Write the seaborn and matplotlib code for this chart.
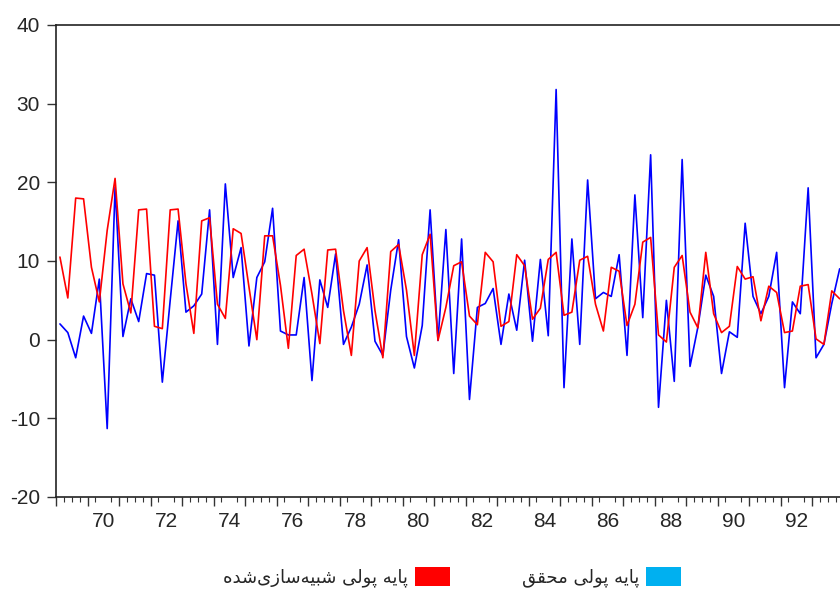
import numpy as np
import pandas as pd
import matplotlib
matplotlib.use("Agg")
import matplotlib.pyplot as plt
from matplotlib.patches import Patch
import seaborn as sns

# ---------------- data (quarterly, 1369Q1 .. 1393Q4) ----------------
years = list(range(69, 94))
quarters = [1, 2, 3, 4]

actual = [2.0, 0.9, -2.3, 3.0, 0.8, 7.7, -11.3, 19.4, 0.4, 5.2,
          2.3, 8.4, 8.2, -5.4, 5.0, 15.1, 3.5, 4.3, 5.8, 16.5,
          -0.6, 19.8, 7.9, 11.7, -0.8, 7.9, 9.9, 16.7, 1.1, 0.6,
          0.6, 7.9, -5.2, 7.6, 4.1, 10.9, -0.6, 1.6, 4.5, 9.5,
          -0.2, -2.0, 6.3, 12.7, 0.4, -3.6, 1.8, 16.5, -0.1, 14.0,
          -4.3, 12.8, -7.6, 4.1, 4.6, 6.5, -0.6, 5.8, 1.2, 10.1,
          -0.2, 10.2, 0.5, 31.8, -6.1, 12.8, -0.6, 20.3, 5.2, 6.0,
          5.5, 10.8, -2.0, 18.4, 2.8, 23.5, -8.6, 5.0, -5.3, 22.9,
          -3.4, 1.6, 8.2, 5.5, -4.3, 1.0, 0.3, 14.8, 5.5, 3.3,
          5.5, 11.1, -6.1, 4.8, 3.3, 19.3, -2.3, -0.6, 4.6, 9.0]

simulated = [10.5, 5.3, 18.0, 17.9, 9.2, 4.8, 13.9, 20.5, 7.1, 3.4,
             16.5, 16.6, 1.7, 1.4, 16.5, 16.6, 7.1, 0.8, 15.1, 15.5,
             4.5, 2.7, 14.1, 13.5, 6.7, 0.0, 13.2, 13.2, 6.9, -1.1,
             10.7, 11.5, 5.8, -0.5, 11.4, 11.5, 3.7, -2.0, 10.0, 11.7,
             3.7, -2.3, 11.2, 12.1, 6.3, -2.0, 10.8, 13.4, -0.1, 4.1,
             9.4, 9.9, 3.0, 1.9, 11.1, 9.9, 1.7, 2.3, 10.8, 9.4,
             2.6, 4.0, 10.2, 11.1, 3.1, 3.5, 10.1, 10.6, 4.5, 1.1,
             9.2, 8.7, 1.8, 4.5, 12.4, 13.0, 0.6, -0.3, 9.2, 10.7,
             3.5, 1.5, 11.1, 3.3, 0.9, 1.7, 9.3, 7.7, 8.0, 2.4,
             6.8, 6.0, 0.9, 1.1, 6.8, 7.0, 0.1, -0.6, 6.2, 5.2]

label_years = list(range(70, 93, 2))
y_ticks = [-20, -10, 0, 10, 20, 30, 40]

# ---------------- Persian labels (shaped manually, visual order) ----------------
def visual(s):
    return s[::-1]

# logical presentation forms
w_paye = "\uFB58\uFE8E\uFBFE\uFEEA"          # پایه
w_pouli = "\uFB58\uFEEE\uFEDF\uFBFD"         # پولی
w_mohaghagh = "\uFEE3\uFEA4\uFED8\uFED6"     # محقق
w_shabih = "\uFEB7\uFE92\uFBFF\uFEEA" + "\uFEB3\uFE8E\uFEAF\uFBFC" + "\uFEB7\uFEAA\uFEE9"  # شبیه‌سازی‌شده
label_actual = visual(w_paye + " " + w_pouli + " " + w_mohaghagh)
label_sim = visual(w_paye + " " + w_pouli + " " + w_shabih)

# ---------------- frame ----------------
t = [y + (q - 0.5) / 4 for y in years for q in quarters]
df = pd.DataFrame({"t": t, "actual": actual, "simulated": simulated})

sns.set_style("ticks")
plt.rcParams["font.family"] = ["Liberation Sans", "DejaVu Sans"]

fig = plt.figure(figsize=(8.4, 5.91), dpi=100)
ax = fig.add_axes([56 / 840, 1 - 497 / 591, (843.6 - 56) / 840, (497 - 25) / 591])

sns.lineplot(data=df, x="t", y="actual", color="#0000FF", lw=1.2, ax=ax, legend=False)
sns.lineplot(data=df, x="t", y="simulated", color="#FF0000", lw=1.2, ax=ax, legend=False)

ax.set_xlim(69, 94)
ax.set_ylim(-20, 40)
ax.set_xlabel("")
ax.set_ylabel("")

ax.set_yticks(y_ticks)
ax.set_yticklabels([str(v) for v in y_ticks])
ax.tick_params(axis="y", direction="out", length=6.5, width=1.0, pad=5,
               labelsize=15, color="#333333")

# x labels at mid-year, no tick marks
ax.set_xticks([y + 0.5 for y in label_years])
ax.set_xticklabels([str(y) for y in label_years])
ax.tick_params(axis="x", which="major", length=0, pad=11, labelsize=15)
ax.set_xticks([y + q / 4 for y in years for q in (1, 2, 3)], minor=True)
ax.tick_params(axis="x", which="minor", direction="out", length=3.8, width=0.8, color="#333333")

# year boundary ticks
sec = ax.secondary_xaxis("bottom")
sec.set_xticks(years + [94])
sec.tick_params(axis="x", direction="out", length=6.8, width=1.0, labelbottom=False,
                color="#333333")
sec.spines["bottom"].set_visible(False)

for side in ["left", "bottom", "top"]:
    ax.spines[side].set_visible(True)
    ax.spines[side].set_linewidth(1.2)
    ax.spines[side].set_color("#222222")
ax.spines["right"].set_visible(False)

handles = [Patch(facecolor="#FF0000", edgecolor="none", label=label_sim),
           Patch(facecolor="#00B0F0", edgecolor="none", label=label_actual)]
leg = fig.legend(handles=handles, loc="center", bbox_to_anchor=(452 / 840, 1 - 577 / 591),
                 ncol=2, frameon=False, markerfirst=False,
                 prop={"family": ["DejaVu Sans"], "size": 13},
                 handlelength=1.9, handleheight=1.3, handletextpad=0.4,
                 columnspacing=4.0)

fig.savefig("out.png", dpi=100)
